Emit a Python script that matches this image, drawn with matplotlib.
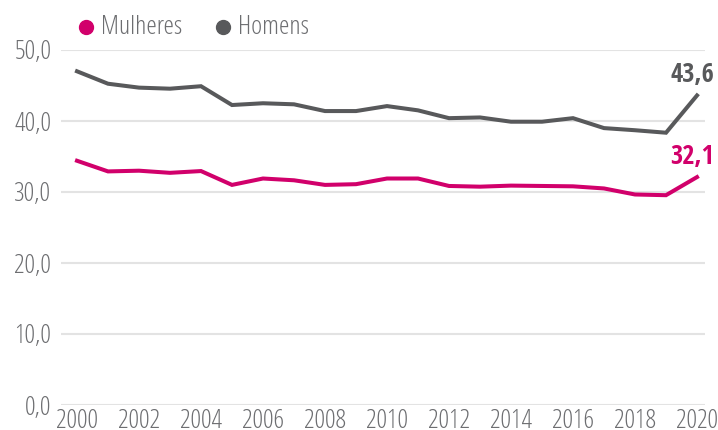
import matplotlib
matplotlib.use("Agg")
import matplotlib.pyplot as plt
from matplotlib.lines import Line2D
from matplotlib import font_manager
from matplotlib.font_manager import FontProperties

years = list(range(2000, 2021))
mulheres = [34.4, 32.9, 33.0, 32.7, 32.95, 31.0, 31.9, 31.65, 31.0, 31.1, 31.9,
            31.9, 30.85, 30.75, 30.9, 30.85, 30.8, 30.5, 29.65, 29.55, 32.1]
homens = [47.0, 45.25, 44.7, 44.55, 44.9, 42.25, 42.5, 42.35, 41.4, 41.4, 42.1,
          41.5, 40.4, 40.5, 39.9, 39.9, 40.4, 39.0, 38.7, 38.35, 43.6]
yticks = [0, 10, 20, 30, 40, 50]
ytick_labels = ["0,0", "10,0", "20,0", "30,0", "40,0", "50,0"]
xticks = list(range(2000, 2021, 2))
series_names = ["Mulheres", "Homens"]
end_labels = ["32,1", "43,6"]


def font_file(fname_end):
    for f in font_manager.fontManager.ttflist:
        if f.fname.endswith(fname_end):
            return f.fname
    return None


light_path = font_file("OpenSans-CondLight.ttf")
bold_path = font_file("OpenSans-CondBold.ttf")


def fp_light(size):
    if light_path:
        return FontProperties(fname=light_path, size=size)
    return FontProperties(family=["Roboto Condensed", "DejaVu Sans"], weight=300, size=size)


def fp_bold(size):
    if bold_path:
        return FontProperties(fname=bold_path, size=size)
    return FontProperties(family=["Roboto Condensed", "DejaVu Sans"], weight="bold", size=size)


c_m = "#d1006b"
c_h = "#58595b"
c_txt = "#6d6e71"

fig = plt.figure(figsize=(7.18, 4.30), dpi=100)
ax = fig.add_axes([61/718, 25/430, 644/718, 355/430])
ax.set_xlim(2000 - 16/31, 2020 + 8/31)
ax.set_ylim(0, 50)
ax.set_yticks(yticks)
ax.set_yticklabels(ytick_labels)
ax.set_xticks(xticks)
ax.set_xticklabels([str(x) for x in xticks])
for s in ax.spines.values():
    s.set_visible(False)
ax.grid(axis="y", color="#e3e3e3", linewidth=1.5)
ax.set_axisbelow(True)
ax.tick_params(axis="both", length=0, labelcolor=c_txt)
ax.tick_params(axis="y", pad=7)
ax.tick_params(axis="x", pad=3)
for lab in ax.get_xticklabels() + ax.get_yticklabels():
    lab.set_fontproperties(fp_light(19))

ax.plot(years, mulheres, color=c_m, linewidth=2.9, solid_joinstyle="miter", clip_on=False)
ax.plot(years, homens, color=c_h, linewidth=2.9, solid_joinstyle="miter", clip_on=False)

ax.annotate(end_labels[0], (years[-1], mulheres[-1]), xytext=(-3.5, 5), textcoords="offset points",
            ha="center", va="bottom", fontproperties=fp_bold(19), color=c_m)
ax.annotate(end_labels[1], (years[-1], homens[-1]), xytext=(-3.5, 5), textcoords="offset points",
            ha="center", va="bottom", fontproperties=fp_bold(19), color=c_h)

# legend
ly = 1 - 27/430
fig.add_artist(Line2D([86/718], [ly], marker="o", markersize=10, color=c_m, linestyle="none",
                      transform=fig.transFigure))
fig.add_artist(Line2D([223/718], [ly], marker="o", markersize=10, color=c_h, linestyle="none",
                      transform=fig.transFigure))
fig.text(101/718, ly, series_names[0], color=c_txt, ha="left", va="center", fontproperties=fp_light(19))
fig.text(238/718, ly, series_names[1], color=c_txt, ha="left", va="center", fontproperties=fp_light(19))

fig.savefig("out.png", dpi=100)
